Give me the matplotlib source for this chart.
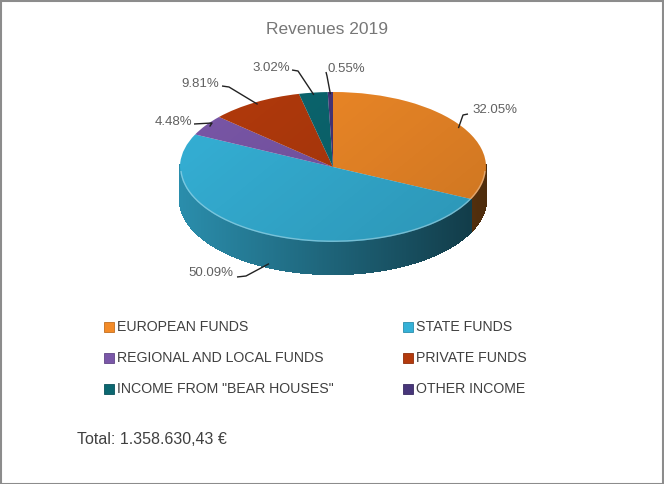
import numpy as np
import matplotlib
matplotlib.use("Agg")
import matplotlib.pyplot as plt
from matplotlib.patches import Rectangle, Ellipse
from matplotlib.collections import PolyCollection
from matplotlib.colors import to_rgb

plt.rcParams['font.family'] = ['Liberation Sans', 'DejaVu Sans']

# ---- data ----
categories = ["EUROPEAN FUNDS", "STATE FUNDS", "REGIONAL AND LOCAL FUNDS",
              "PRIVATE FUNDS", 'INCOME FROM "BEAR HOUSES"', "OTHER INCOME"]
shares = [32.05, 50.09, 4.48, 9.81, 3.02, 0.55]
pct_labels = ["32.05%", "50.09%", "4.48%", "9.81%", "3.02%", "0.55%"]
colors = ["#F38B28", "#35B1D7", "#7A57A8", "#B33A0C", "#0B6770", "#47367A"]
title = "Revenues 2019"
total_text = "Total: 1.358.630,43 €"

# ---- layout (pixels) ----
W, H = 664, 484
CX, CY = 333, 167      # pie centre in pixels
RX, RY = 153, 75       # ellipse semi-axes in pixels
DEPTH = 32             # side height in pixels

fig = plt.figure(figsize=(W / 100, H / 100), dpi=100)
fig.patch.set_facecolor("white")
ax = fig.add_axes([0, 0, 1, 1])

def px2d(px, py):
    return (px - CX) / RX, (CY - py) / RY

depth = DEPTH / RY

wedges, _ = ax.pie(shares, colors=colors, startangle=90, counterclock=False,
                   radius=1, wedgeprops=dict(linewidth=0))
for w in wedges:
    w.set_zorder(3)

# ---- side wall (front half) ----
polys, pcols = [], []
for w, c in zip(wedges, colors):
    lo, hi = sorted([w.theta1, w.theta2])
    base = np.array(to_rgb(c))
    angs = np.linspace(lo, hi, max(4, int((hi - lo) * 2)))
    for i in range(len(angs) - 1):
        m = np.deg2rad((angs[i] + angs[i + 1]) / 2)
        if np.sin(m) > 0.02:
            continue
        r1, r2 = np.deg2rad(angs[i]), np.deg2rad(angs[i + 1])
        p = [(np.cos(r1), np.sin(r1)), (np.cos(r2), np.sin(r2)),
             (np.cos(r2), np.sin(r2) - depth), (np.cos(r1), np.sin(r1) - depth)]
        polys.append(p)
        f = 0.56 - 0.24 * np.cos(m)
        pcols.append(np.clip(base * f, 0, 1))
pc = PolyCollection(polys, facecolors=pcols, edgecolors=pcols, linewidths=1.0,
                    antialiaseds=False, zorder=2)
ax.add_collection(pc)

# ---- top-surface shading ----
gx, gy = np.meshgrid(np.linspace(-1, 1, 200), np.linspace(1, -1, 100))
shade = np.zeros((100, 200, 4))
a = 0.10 * (gx + 1) / 2 + 0.06 * (1 - gy) / 2
shade[..., 3] = np.clip(a, 0, 1)
im = ax.imshow(shade, extent=(-1, 1, -1, 1), zorder=4, interpolation='bilinear')
clip_el = Ellipse((0, 0), 2, 2, transform=ax.transData)
im.set_clip_path(clip_el)

# front rim highlight
t = np.linspace(np.pi * 1.02, np.pi * 1.98, 200)
ax.plot(np.cos(t) * 0.995, np.sin(t) * 0.99, color="white", alpha=0.35, lw=1.0, zorder=4)

ax.set_aspect('auto')
x0, y1 = px2d(0, 0)
x1, y0 = px2d(W, H)
ax.set_xlim(x0, x1)
ax.set_ylim(y0, y1)
ax.axis('off')

# ---- percentage labels with leader lines ----
label_px = [(472, 110), (233, 273), (192, 122), (219, 84), (290, 68), (327, 69)]
label_ha = ["left", "right", "right", "right", "right", "left"]
elbow_px = [[(468, 114), (463, 115)], [(237, 277), (246, 276)],
            [(194, 124), (212, 123)], [(222, 86), (229, 87)],
            [(292, 70), (298, 71)], [(326, 72), (327, 76)]]
for w, lab, (lx, ly), ha, elb in zip(wedges, pct_labels, label_px, label_ha, elbow_px):
    mid = np.deg2rad((w.theta1 + w.theta2) / 2)
    ex, ey = np.cos(mid), np.sin(mid)
    if np.sin(mid) < 0:
        ey -= depth
    tx, ty = px2d(lx, ly)
    ax.text(tx, ty, lab, ha=ha, va='center', fontsize=9.5, color="#606060", zorder=5)
    pts = [px2d(*e) for e in elb] + [(ex * 0.97, ey * 0.97)]
    ax.plot([p[0] for p in pts], [p[1] for p in pts], color="#222222", lw=1.0,
            zorder=5, solid_capstyle='butt')

# ---- title ----
fig.text(327 / W, 1 - 30 / H, title, ha='center', va='center', fontsize=12.5, color="#777777")

# ---- legend (manual) ----
leg_pos = [(104, 327), (403, 327), (104, 358), (403, 358), (104, 389), (403, 389)]
for (mx, my), name, c in zip(leg_pos, categories, colors):
    fig.patches.append(Rectangle((mx / W, 1 - (my + 5) / H), 10 / W, 10 / H,
                                 transform=fig.transFigure, facecolor=c,
                                 edgecolor=np.array(to_rgb(c)) * 0.8, lw=0.6))
    fig.text((mx + 13) / W, 1 - my / H, name, ha='left', va='center',
             fontsize=10.2, color="#404040")

fig.text(77 / W, 1 - 440 / H, total_text, ha='left', va='center', fontsize=11.5, color="#404040")

# ---- border ----
fig.patches.append(Rectangle((0.5 / W, 0.5 / H), (W - 1.5) / W, (H - 1.5) / H,
                             transform=fig.transFigure, fill=False,
                             edgecolor="#8C8C8C", lw=1.5))

fig.savefig("out.png", dpi=100)
